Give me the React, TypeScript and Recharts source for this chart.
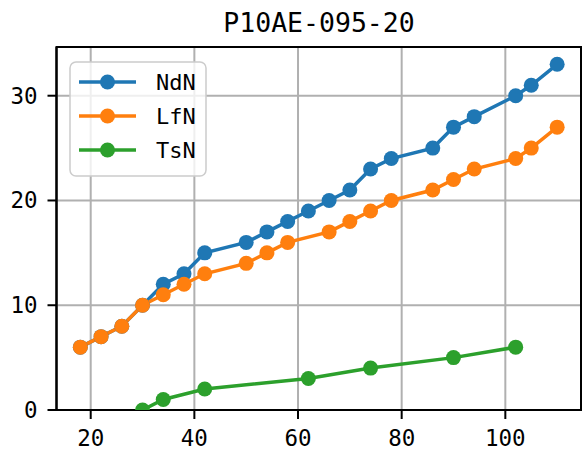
import { LineChart, Line, XAxis, YAxis, CartesianGrid, ReferenceArea } from 'recharts';

const ndnX = [18, 22, 26, 30, 34, 38, 42, 50, 54, 58, 62, 66, 70, 74, 78, 86, 90, 94, 102, 105, 110];
const ndnY = [6, 7, 8, 10, 12, 13, 15, 16, 17, 18, 19, 20, 21, 23, 24, 25, 27, 28, 30, 31, 33];
const lfnX = [18, 22, 26, 30, 34, 38, 42, 50, 54, 58, 66, 70, 74, 78, 86, 90, 94, 102, 105, 110];
const lfnY = [6, 7, 8, 10, 11, 12, 13, 14, 15, 16, 17, 18, 19, 20, 21, 22, 23, 24, 25, 27];
const tsnX = [30, 34, 42, 62, 74, 90, 102];
const tsnY = [0, 1, 2, 3, 4, 5, 6];

const xTicks = [20, 40, 60, 80, 100];
const yTicks = [0, 10, 20, 30];

const series = [
  { name: 'NdN', color: '#1f77b4', data: ndnX.map((x, i) => ({ x, y: ndnY[i] })) },
  { name: 'LfN', color: '#ff7f0e', data: lfnX.map((x, i) => ({ x, y: lfnY[i] })) },
  { name: 'TsN', color: '#2ca02c', data: tsnX.map((x, i) => ({ x, y: tsnY[i] })) },
];

const FONT = '"DejaVu Sans Mono", monospace';
const X_DOMAIN: [number, number] = [13.4, 114.6];
const Y_DOMAIN: [number, number] = [0, 34.65];

// legend drawn as an overlay so it doesn't eat into the plot area
const LegendBox = () => (
  <svg width={140} height={118} style={{ position: 'absolute', left: 69, top: 61 }}>
    <rect x={1} y={1} width={136} height={114} rx={6} fill="rgba(255,255,255,0.8)" stroke="#cccccc" strokeWidth={1.5} />
    {series.map((s, i) => {
      const cy = 21 + i * 34;
      return (
        <g key={s.name}>
          <line x1={10} x2={67} y1={cy} y2={cy} stroke={s.color} strokeWidth={3.5} />
          <circle cx={38.5} cy={cy} r={7.5} fill={s.color} />
          <text x={87} y={cy + 8} fontFamily={FONT} fontSize={22} fill="#000">{s.name}</text>
        </g>
      );
    })}
  </svg>
);

export default function App() {
  return (
    <div style={{ position: 'absolute', left: 0, top: 0, width: 582, height: 456, background: '#fff' }}>
      <svg width={582} height={45} style={{ position: 'absolute', left: 0, top: 0 }}>
        <text x={319} y={31.5} textAnchor="middle" fontFamily={FONT} fontSize={26.5} fill="#000">
          P10AE-095-20
        </text>
      </svg>
      <LineChart width={582} height={456} margin={{ top: 47, right: 1, bottom: 0, left: 0 }}>
        <CartesianGrid stroke="#b0b0b0" strokeWidth={2} />
        <XAxis
          type="number"
          dataKey="x"
          domain={X_DOMAIN}
          ticks={xTicks}
          allowDataOverflow
          height={46}
          tickSize={9}
          tickMargin={11}
          tick={{ fontFamily: FONT, fontSize: 22.5, fill: '#000' }}
          axisLine={{ stroke: '#000', strokeWidth: 2 }}
          tickLine={{ stroke: '#000', strokeWidth: 2 }}
        />
        <YAxis
          type="number"
          dataKey="y"
          domain={Y_DOMAIN}
          ticks={yTicks}
          allowDataOverflow
          width={56.5}
          tickSize={9}
          tickMargin={10}
          tick={{ fontFamily: FONT, fontSize: 22.5, fill: '#000' }}
          axisLine={{ stroke: '#000', strokeWidth: 2 }}
          tickLine={{ stroke: '#000', strokeWidth: 2 }}
        />
        {series.map((s) => (
          <Line
            key={s.name}
            data={s.data}
            dataKey="y"
            name={s.name}
            type="linear"
            stroke={s.color}
            strokeWidth={3.5}
            dot={{ r: 7.5, fill: s.color, stroke: s.color, strokeWidth: 0 }}
            activeDot={false}
            isAnimationActive={false}
          />
        ))}
        <ReferenceArea
          x1={X_DOMAIN[0]}
          x2={X_DOMAIN[1]}
          y1={Y_DOMAIN[0]}
          y2={Y_DOMAIN[1]}
          fill="none"
          stroke="#000"
          strokeWidth={2}
          ifOverflow="visible"
        />
      </LineChart>
      <LegendBox />
    </div>
  );
}
